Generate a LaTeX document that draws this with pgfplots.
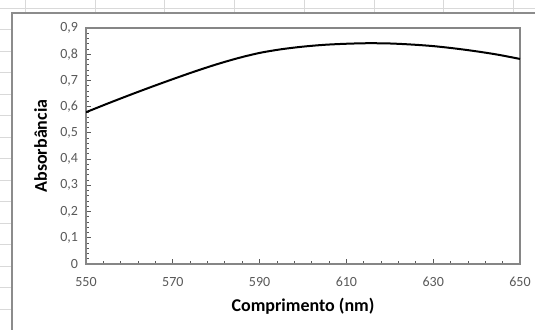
\documentclass[border=0pt]{standalone}
\usepackage{pgfplots}
\pgfplotsset{compat=1.18}
\usepackage{fontspec}
\setmainfont{Carlito}
\definecolor{tickgray}{HTML}{595959}
\definecolor{axgray}{HTML}{868686}
\definecolor{gridgray}{HTML}{D9D9D9}
\definecolor{framegray}{HTML}{8C8C8C}
\begin{document}
\begin{tikzpicture}[x=0.75pt,y=0.75pt]
\useasboundingbox (0,0) rectangle (535,329);
\fill[white] (0,0) rectangle (535,329);
\foreach \xx in {25,95,164,234,304,374,443,513} \draw[gridgray] (\xx,329) -- (\xx,316);
\draw[gridgray] (0,321) -- (535,321);
\foreach \yy in {299.5,278,256.5,235,213.5,192,170.5,149,127.5,106,84.5,63,41.5,20} \draw[gridgray] (0,\yy) -- (12,\yy);
\draw[framegray, line width=1.3pt, fill=white] (12,-10) rectangle (545,316);
\begin{axis}[
  at={(64.5pt,48.75pt)}, anchor=south west,
  width=325.5pt, height=177pt, scale only axis,
  xmin=550, xmax=650, ymin=0, ymax=0.9,
  xtick={550,570,...,650},
  ytick={0,0.1,0.2,0.3,0.4,0.5,0.6,0.7,0.8,0.9},
  minor x tick num=4, minor y tick num=4,
  tick align=inside, xtick pos=bottom, ytick pos=left,
  major tick length=4pt, minor tick length=2.5pt,
  every tick/.style={tickgray, line width=0.6pt},
  axis line style={axgray, line width=0.9pt},
  tick label style={font=\fontsize{10.5}{12}\selectfont, text=tickgray},
  /pgf/number format/.cd, use comma, fixed, precision=1, assume math mode=true,
  /pgfplots/.cd,
  yticklabel style={xshift=-2.5pt},
  xticklabel style={yshift=-6.5pt},
  xlabel={Comprimento (nm)}, ylabel={Absorbância},
  label style={font=\fontsize{13.5}{16}\selectfont\bfseries, text=black},
  xlabel style={at={(axis description cs:0.5,0)}, anchor=base, yshift=-35.6pt},
  ylabel style={at={(axis description cs:0,0.5)}, anchor=base, yshift=29.25pt},
]
\addplot[black, line width=1.5pt, smooth] coordinates {
(550,0.579) (555,0.612) (560,0.644) (565,0.675) (570,0.705) (575,0.734)
(580,0.761) (585,0.785) (590,0.805) (595,0.819) (600,0.829) (605,0.836)
(610,0.840) (615,0.842) (620,0.841) (625,0.837) (630,0.831) (635,0.822)
(640,0.811) (645,0.798) (650,0.782)
};
\end{axis}
\end{tikzpicture}
\end{document}
